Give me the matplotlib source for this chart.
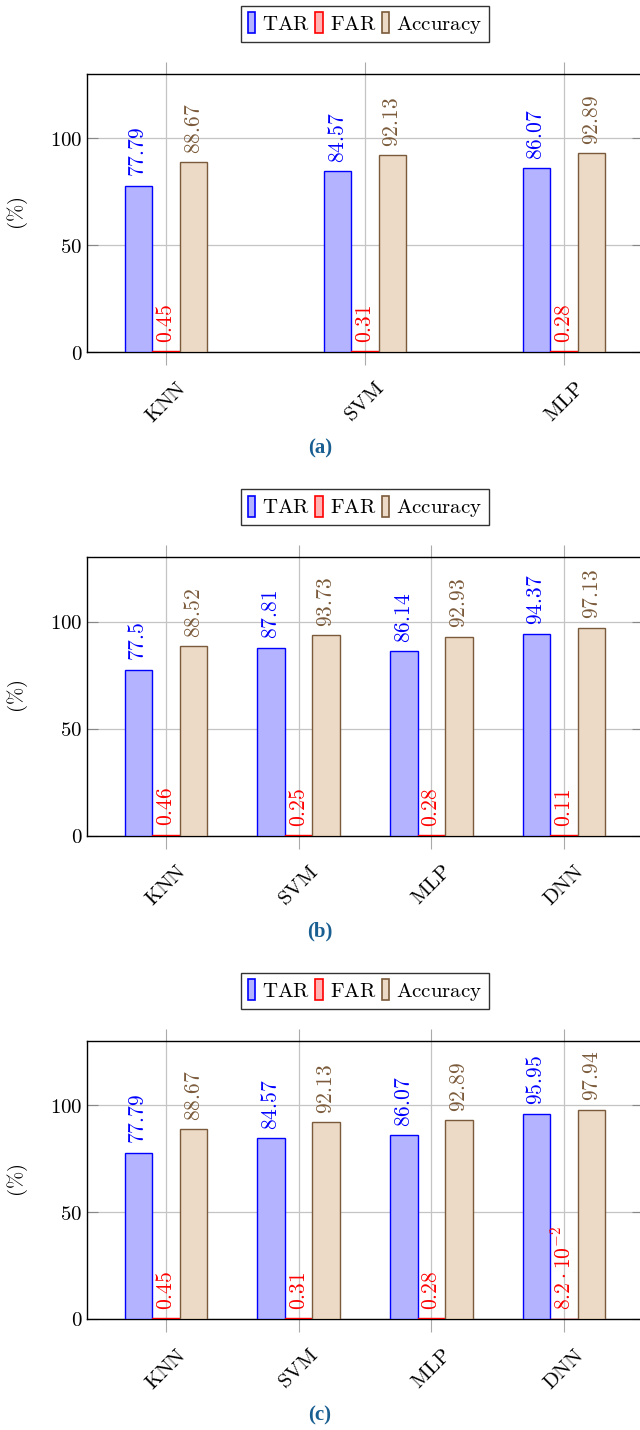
import matplotlib
matplotlib.use('Agg')
import matplotlib.pyplot as plt
from matplotlib.patches import Patch

plt.rcParams['font.family'] = ['DejaVu Serif']
plt.rcParams['mathtext.fontset'] = 'cm'
plt.rcParams['axes.formatter.use_mathtext'] = True

# data for the three panels
cats_a = ['KNN', 'SVM', 'MLP']
tar_a = [77.79, 84.57, 86.07]
far_a = [0.45, 0.31, 0.28]
acc_a = [88.67, 92.13, 92.89]
far_lbl_a = ['0.45', '0.31', '0.28']

cats_b = ['KNN', 'SVM', 'MLP', 'DNN']
tar_b = [77.5, 87.81, 86.14, 94.37]
far_b = [0.46, 0.25, 0.28, 0.11]
acc_b = [88.52, 93.73, 92.93, 97.13]
far_lbl_b = ['0.46', '0.25', '0.28', '0.11']

cats_c = ['KNN', 'SVM', 'MLP', 'DNN']
tar_c = [77.79, 84.57, 86.07, 95.95]
far_c = [0.45, 0.31, 0.28, 0.082]
acc_c = [88.67, 92.13, 92.89, 97.94]
far_lbl_c = ['0.45', '0.31', '0.28', r'8.2\cdot10^{-2}']

captions = ['(a)', '(b)', '(c)']

fills = ['#b3b3ff', '#ffb3b3', '#ecd9c6']
edges = ['#0000ff', '#ff0000', '#7a5a3a']
series_names = ['TAR', 'FAR', 'Accuracy']


def m(s):
    return r'$\mathrm{' + s + '}$'


W, H = 640, 1430
fig = plt.figure(figsize=(W / 100, H / 100), dpi=100)

ax_left, ax_right = 87, 643
ax_w = ax_right - ax_left
pad_px = 79
bar_px = 27.5
fs = 15

panels = [
    (cats_a, [tar_a, far_a, acc_a], far_lbl_a),
    (cats_b, [tar_b, far_b, acc_b], far_lbl_b),
    (cats_c, [tar_c, far_c, acc_c], far_lbl_c),
]

for i, (cats, vals, far_lbl) in enumerate(panels):
    top = 74 + 483.5 * i
    bot = 352 + 483.5 * i
    ax = fig.add_axes([ax_left / W, 1 - bot / H, ax_w / W, (bot - top) / H])
    n = len(cats)
    frac = pad_px / ax_w
    pad = (n - 1) * frac / (1 - 2 * frac)
    total = n - 1 + 2 * pad
    bw = bar_px / ax_w * total
    x = list(range(n))
    for k in range(3):
        xs = [xx + (k - 1) * bw for xx in x]
        ax.bar(xs, vals[k], width=bw, color=fills[k], edgecolor=edges[k],
               linewidth=1.0, zorder=3)
        for j in range(n):
            if k == 1:
                txt = far_lbl[j]
            else:
                txt = '%g' % vals[k][j]
            ax.annotate('$' + txt + '$', (xs[j], vals[k][j]), xytext=(0, 6),
                        textcoords='offset points', rotation=90,
                        ha='center', va='bottom', color=edges[k],
                        fontsize=fs + 0.5, zorder=4)
    ax.set_xlim(-pad, n - 1 + pad)
    ax.set_ylim(0, 130)
    ax.set_yticks([0, 50, 100])
    ax.set_yticklabels([m(str(v)) for v in [0, 50, 100]], fontsize=fs)
    ax.set_xticks(x)
    ax.set_xticklabels([m(c) for c in cats], rotation=45, ha='center',
                       va='top', fontsize=fs)
    ax.tick_params(axis='y', direction='in', length=8,
                   right=True, color='#888888')
    ax.tick_params(axis='x', direction='out', length=9, top=True,
                   color='#aaaaaa', pad=10)
    ax.grid(True, color='#c4c4c4', linewidth=0.9, zorder=0)
    ax.set_axisbelow(True)
    for s in ax.spines.values():
        s.set_linewidth(1.0)
        s.set_color('black')
    ax.set_ylabel(m(r'(\%)'), fontsize=fs, labelpad=14)
    handles = [Patch(facecolor=fills[k], edgecolor=edges[k], linewidth=1.2)
               for k in range(3)]
    ax.legend(handles, [m(s) for s in series_names], loc='lower center',
              ncol=3, bbox_to_anchor=(0.5, 1 + 32 / (bot - top)), fontsize=fs,
              frameon=True, fancybox=False, edgecolor='black',
              handlelength=0.35, handleheight=1.2, handletextpad=0.35,
              columnspacing=0.25, borderpad=0.3, borderaxespad=0)
    fig.text(320 / W, 1 - (448 + 483.5 * i) / H, captions[i],
             family='Liberation Serif', fontweight='bold', fontsize=15,
             color='#1a5f91', ha='center', va='center')

fig.savefig('out.png', dpi=100)
